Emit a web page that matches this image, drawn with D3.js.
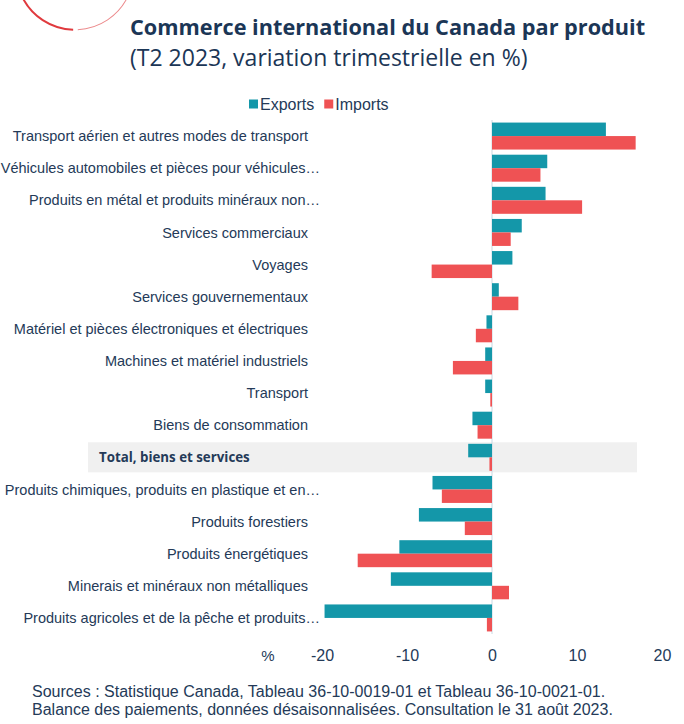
<!DOCTYPE html>
<html><head><meta charset="utf-8">
<script src="https://cdn.jsdelivr.net/npm/d3@7"></script>
<style>body{margin:0;background:#fff;} svg{display:block;}</style>
</head><body>
<script>
const categories = [
  "Transport aérien et autres modes de transport",
  "Véhicules automobiles et pièces pour véhicules…",
  "Produits en métal et produits minéraux non…",
  "Services commerciaux",
  "Voyages",
  "Services gouvernementaux",
  "Matériel et pièces électroniques et électriques",
  "Machines et matériel industriels",
  "Transport",
  "Biens de consommation",
  "Total, biens et services",
  "Produits chimiques, produits en plastique et en…",
  "Produits forestiers",
  "Produits énergétiques",
  "Minerais et minéraux non métalliques",
  "Produits agricoles et de la pêche et produits…"
];
const exportsVals = [13.4, 6.5, 6.3, 3.5, 2.4, 0.8, -0.65, -0.8, -0.8, -2.3, -2.8, -7.0, -8.6, -10.9, -11.9, -19.7];
const importsVals = [16.9, 5.7, 10.6, 2.2, -7.1, 3.1, -1.9, -4.6, -0.2, -1.7, -0.3, -5.9, -3.2, -15.8, 2.0, -0.6];
const seriesNames = ["Exports", "Imports"];
const xTicks = [-20, -10, 0, 10, 20];
const highlight = "Total, biens et services";

const W = 684, H = 724;
const teal = "#1497a9", red = "#ef5254", navy = "#1b3656", textCol = "#243a58";
const svg = d3.select("body").append("svg").attr("width", W).attr("height", H);

// decoration arc
svg.append("path")
  .attr("d", d3.arc()({innerRadius: 57.8, outerRadius: 59.8, startAngle: Math.PI*1.36, endAngle: Math.PI*1.01}))
  .attr("transform", "translate(75,-29)").attr("fill", "#e03a3e");
svg.append("path")
  .attr("d", d3.arc()({innerRadius: 58.2, outerRadius: 59.2, startAngle: Math.PI*0.985, endAngle: Math.PI*0.64}))
  .attr("transform", "translate(75,-29)").attr("fill", "#ec8a8c");

// titles
svg.append("text").attr("x", 130).attr("y", 35).attr("fill", navy)
  .style("font", "bold 21.7px 'Open Sans', sans-serif").text("Commerce international du Canada par produit");
svg.append("text").attr("x", 130).attr("y", 66).attr("fill", navy)
  .style("font", "23px 'Open Sans', sans-serif").text("(T2 2023, variation trimestrielle en %)");

const x = d3.scaleLinear().domain([-20, 20]).range([322, 662]);
const y = d3.scaleBand().domain(categories).range([120, 634]).paddingInner(0.16).paddingOuter(0.08);
const y2 = d3.scaleBand().domain(seriesNames).range([0, y.bandwidth()]);

// highlight row
svg.append("rect").attr("x", 88).attr("width", 549)
  .attr("y", y(highlight) + y.bandwidth()/2 - 15).attr("height", 30).attr("fill", "#f0f0f0");

// zero line
svg.append("line").attr("x1", x(0)).attr("x2", x(0)).attr("y1", 120).attr("y2", 634)
  .attr("stroke", "#c9d8e2").attr("stroke-width", 1);

const data = categories.map((c, i) => ({c, vals: [exportsVals[i], importsVals[i]]}));
const colors = d3.scaleOrdinal().domain(seriesNames).range([teal, red]);
const g = svg.append("g");
data.forEach(d => {
  seriesNames.forEach((s, j) => {
    const v = d.vals[j];
    g.append("rect")
      .attr("x", x(Math.min(0, v)))
      .attr("width", Math.abs(x(v) - x(0)))
      .attr("y", y(d.c) + y2(s))
      .attr("height", y2.bandwidth())
      .attr("fill", colors(s));
  });
});

// labels
data.forEach(d => {
  const isH = d.c === highlight;
  const t = svg.append("text")
    .attr("y", y(d.c) + y.bandwidth()/2).attr("dy", "0.35em")
    .attr("fill", textCol).text(d.c);
  if (isH) {
    t.attr("x", 99).attr("text-anchor", "start")
     .style("font", "bold 13.3px 'Open Sans', sans-serif");
  } else {
    t.attr("x", d.c.endsWith("…") ? 320 : 308).attr("text-anchor", "end")
     .style("font", "14.5px 'Liberation Sans', Arial, sans-serif");
  }
});

// x axis labels
const ax = svg.append("g").attr("transform", "translate(0,655)")
  .call(d3.axisBottom(x).tickValues(xTicks).tickSize(0).tickFormat(d => String(d)));
ax.select(".domain").remove();
ax.selectAll("text").attr("fill", textCol).attr("dy", 0).attr("y", 6)
  .style("font", "16px 'Liberation Sans', Arial, sans-serif");
svg.append("text").attr("x", 268).attr("y", 661).attr("text-anchor", "middle").attr("fill", textCol)
  .style("font", "15px 'Liberation Sans', Arial, sans-serif").text("%");

// legend
const leg = svg.append("g").attr("transform", "translate(249,104)");
let lx = 0;
seriesNames.forEach((s) => {
  leg.append("rect").attr("x", lx).attr("y", -4.5).attr("width", 9).attr("height", 9).attr("fill", colors(s));
  const tt = leg.append("text").attr("x", lx + 11).attr("dy", "0.35em").attr("fill", textCol)
    .style("font", "16px 'Liberation Sans', Arial, sans-serif").text(s);
  lx += 11 + tt.node().getComputedTextLength() + 10;
});

// sources
svg.append("text").attr("x", 32).attr("y", 697).attr("fill", textCol)
  .style("font", "16px 'Liberation Sans', Arial, sans-serif")
  .text("Sources : Statistique Canada, Tableau 36-10-0019-01 et Tableau 36-10-0021-01.");
svg.append("text").attr("x", 32).attr("y", 715).attr("fill", textCol)
  .style("font", "16px 'Liberation Sans', Arial, sans-serif")
  .text("Balance des paiements, données désaisonnalisées. Consultation le 31 août 2023.");
</script>
</body></html>
